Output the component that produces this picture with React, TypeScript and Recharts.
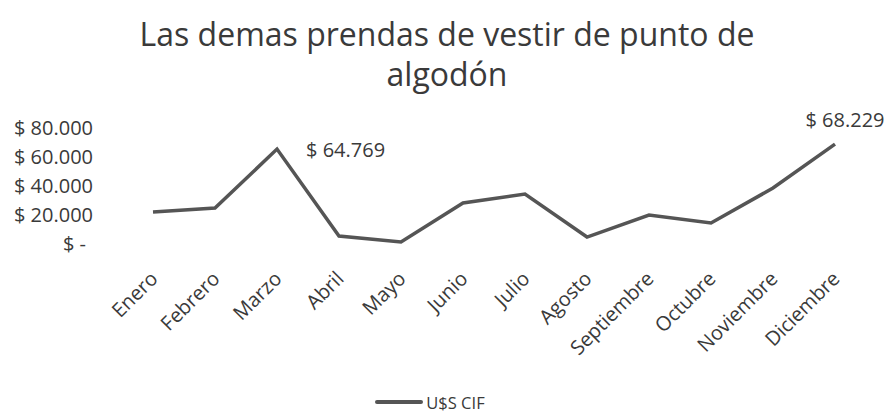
import { LabelList, Legend, Line, LineChart, XAxis, YAxis } from "recharts";

const months = [
  "Enero",
  "Febrero",
  "Marzo",
  "Abril",
  "Mayo",
  "Junio",
  "Julio",
  "Agosto",
  "Septiembre",
  "Octubre",
  "Noviembre",
  "Diciembre",
];

const cifValues = [21400, 24100, 64769, 4800, 700, 27600, 33800, 4100, 19300, 13800, 37900, 68229];

// only these months carry a data label in the original
const labeledMonths = ["Marzo", "Diciembre"];

const yTicks = [0, 20000, 40000, 60000, 80000];

const data = months.map((month, i) => ({ month, cif: cifValues[i] }));

const FONT = "'Open Sans', sans-serif";
const INK = "#3a3a3a";
const LINE = "#555555";

const money = (v: number) => (v === 0 ? "$ -" : "$ " + v.toLocaleString("de-DE"));

function YTick({ x, y, payload }: any) {
  const v = payload.value as number;
  return (
    <text x={v === 0 ? x - 7 : x} y={y} textAnchor="end" dominantBaseline="central" fill={INK} fontSize={20} fontFamily={FONT}>
      {money(v)}
    </text>
  );
}

function XTick({ x, y, payload }: any) {
  return (
    <text
      transform={`translate(${x + 6}, ${y + 37}) rotate(-45)`}
      textAnchor="end"
      fill={INK}
      fontSize={20}
      fontFamily={FONT}
    >
      {payload.value}
    </text>
  );
}

function PointLabel({ x, y, value, index }: any) {
  const month = months[index];
  if (!labeledMonths.includes(month)) return null;
  const last = index === months.length - 1;
  return (
    <text
      x={last ? x + 10 : x + 29}
      y={last ? y - 25 : y}
      textAnchor={last ? "middle" : "start"}
      dominantBaseline="central"
      fill={INK}
      fontSize={20}
      fontFamily={FONT}
    >
      {money(value)}
    </text>
  );
}

function LegendBox() {
  return (
    <div style={{ display: "flex", justifyContent: "center", alignItems: "center", height: 24, paddingLeft: 24 }}>
      <svg width={50} height={10}>
        <line x1={3} y1={5} x2={47} y2={5} stroke={LINE} strokeWidth={4} strokeLinecap="round" />
      </svg>
      <span style={{ fontFamily: FONT, fontSize: 16.5, color: INK, marginLeft: 2 }}>U$S CIF</span>
    </div>
  );
}

export default function App() {
  return (
    <div style={{ position: "fixed", top: 0, left: 0, width: 894, height: 414, background: "#fff" }}>
      <div
        style={{
          position: "absolute",
          top: 14,
          left: 0,
          width: 894,
          textAlign: "center",
          fontFamily: FONT,
          fontSize: 32,
          lineHeight: "40px",
          color: INK,
        }}
      >
        Las demas prendas de vestir de punto de
        <br />
        algodón
      </div>
      <LineChart width={894} height={414} data={data} margin={{ top: 127, right: 59, left: 0, bottom: 0 }}>
        <XAxis
          dataKey="month"
          axisLine={false}
          tickLine={false}
          tickSize={0}
          tickMargin={0}
          height={147}
          interval={0}
          tick={<XTick />}
        />
        <YAxis
          domain={[0, 80000]}
          ticks={yTicks}
          axisLine={false}
          tickLine={false}
          tickSize={0}
          tickMargin={60}
          width={153}
          tick={<YTick />}
        />
        <Legend verticalAlign="bottom" height={24} content={<LegendBox />} />
        <Line
          type="linear"
          dataKey="cif"
          name="U$S CIF"
          stroke={LINE}
          strokeWidth={3.5}
          dot={false}
          isAnimationActive={false}
        >
          <LabelList dataKey="cif" content={<PointLabel />} />
        </Line>
      </LineChart>
    </div>
  );
}
